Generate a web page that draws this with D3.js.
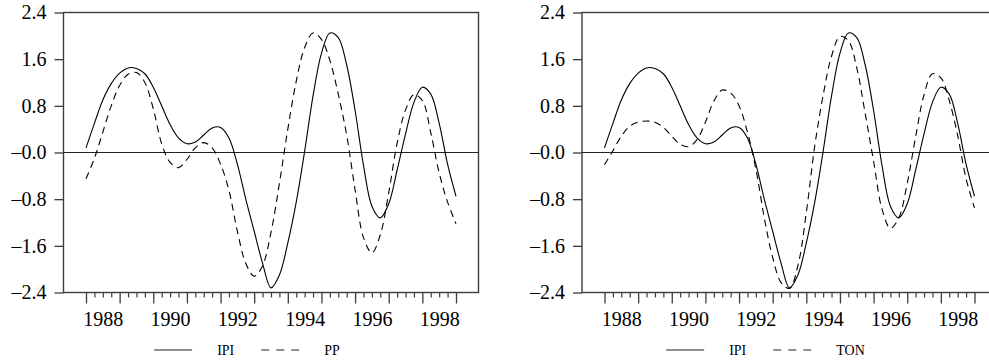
<!DOCTYPE html>
<html><head><meta charset="utf-8">
<script src="https://cdn.jsdelivr.net/npm/d3@7"></script>
<style>
body{margin:0;background:#fff}
svg{display:block}
svg text{font-family:"Liberation Serif","Times New Roman",Times,serif !important;fill:#000}
</style>
</head><body>
<svg id="chart" width="989" height="363"></svg>
<script>
// Quarterly observations, 1988Q1 .. 1999Q1
const startYear = 1988;
const ipi = [0.08,0.50,0.90,1.18, 1.36,1.45,1.44,1.35, 1.12,0.80,0.48,0.25, 0.15,0.18,0.30,0.42,
             0.43,0.25,-0.20,-0.80, -1.35,-1.90,-2.32,-2.10, -1.55,-0.85,0.02,0.97, 1.70,2.05,1.97,1.50,
             0.72,-0.22,-0.92,-1.12, -0.88,-0.30,0.32,0.86, 1.12,1.00,0.50,-0.20, -0.75];
const pp  = [-0.45,-0.10,0.35,0.80, 1.15,1.34,1.37,1.20, 0.75,0.15,-0.17,-0.26, -0.12,0.08,0.17,0.08,
             -0.20,-0.65,-1.35,-1.90, -2.12,-1.94,-1.37,-0.53, 0.40,1.22,1.80,2.05, 1.94,1.58,1.00,0.30,
             -0.64,-1.46,-1.72,-1.41, -0.69,0.16,0.73,0.99, 0.89,0.34,-0.35,-0.85, -1.22];
const ton = [-0.21,0.03,0.28,0.45, 0.52,0.54,0.52,0.43, 0.28,0.14,0.10,0.22, 0.52,0.88,1.07,1.02,
             0.80,0.35,-0.28,-1.12, -1.80,-2.23,-2.33,-1.94, -1.03,0.11,0.98,1.65, 1.99,1.92,1.45,0.67,
             -0.15,-0.97,-1.30,-1.12, -0.53,0.27,0.99,1.35, 1.28,0.89,0.29,-0.45, -0.95];
const yTicks = [-2.4,-1.6,-0.8,0,0.8,1.6,2.4];
const yearTicks = [1988,1989,1990,1991,1992,1993,1994,1995,1996,1997,1998,1999];
const yearLabels = [1988,1990,1992,1994,1996,1998];
const seriesNames = ["IPI","PP","TON"];

const svg = d3.select("#chart");
const W = 989, H = 363;
const FONT = "'Liberation Serif','Times New Roman',Times,serif";

const x = d3.scaleLinear().domain([1987.331, 1999.669]).range([63.5, 478.5]);
const y = d3.scaleLinear().domain([-2.4, 2.4]).range([292.5, 12.5]);

const quarters = d3.range(0, 45).map(i => startYear + i * 0.25);
const toPts = arr => arr.map((v, i) => [quarters[i], v]);

const line = d3.line().x(d => x(d[0])).y(d => y(d[1])).curve(d3.curveCatmullRom.alpha(0.5));

const fmt = d => d === 0 ? "\u20130.0" : (d < 0 ? "\u2013" : "") + Math.abs(d).toFixed(1);

function panel(g, solid, dashed, names) {
  const frameColor = "#3c3c3c";
  // y axis (ticks + labels)
  const ya = g.append("g").attr("transform", `translate(${x.range()[0]},0)`)
    .call(d3.axisLeft(y).tickValues(yTicks).tickSize(9).tickPadding(8).tickFormat(fmt));
  ya.attr("font-family", FONT);
  ya.select(".domain").remove();
  ya.selectAll(".tick line").attr("stroke", frameColor).attr("stroke-width", 1.3);
  ya.selectAll(".tick text").attr("font-size", 20).style("font-family", FONT);

  // x axis major/minor ticks
  const xa = g.append("g").attr("transform", `translate(0,${y.range()[0]})`)
    .call(d3.axisBottom(x).tickValues(yearTicks).tickSize(11).tickFormat(""));
  xa.select(".domain").remove();
  xa.selectAll(".tick line").attr("stroke", frameColor).attr("stroke-width", 1.3);
  const minor = quarters.filter((q, i) => i % 4 !== 0);
  const xm = g.append("g").attr("transform", `translate(0,${y.range()[0]})`)
    .call(d3.axisBottom(x).tickValues(minor).tickSize(5).tickFormat(""));
  xm.select(".domain").remove();
  xm.selectAll(".tick line").attr("stroke", frameColor).attr("stroke-width", 1.2);
  // year labels centered in the year
  const xl = g.append("g").attr("transform", `translate(0,${y.range()[0]})`)
    .call(d3.axisBottom(x).tickValues(yearLabels.map(v => v + 0.5)).tickSize(0).tickPadding(19)
      .tickFormat(d => String(Math.floor(d))));
  xl.attr("font-family", FONT);
  xl.select(".domain").remove();
  xl.selectAll(".tick text").attr("font-size", 20).style("font-family", FONT);

  // frame
  g.append("rect")
    .attr("x", x.range()[0]).attr("y", y.range()[1])
    .attr("width", x.range()[1] - x.range()[0]).attr("height", y.range()[0] - y.range()[1])
    .attr("fill", "none").attr("stroke", frameColor).attr("stroke-width", 1.4);

  // zero line
  g.append("line").attr("x1", x.range()[0]).attr("x2", x.range()[1])
    .attr("y1", y(0)).attr("y2", y(0)).attr("stroke", "#222").attr("stroke-width", 1.1);

  // series
  g.append("path").attr("d", line(toPts(solid))).attr("fill", "none")
    .attr("stroke", "#000").attr("stroke-width", 1.1);
  g.append("path").attr("d", line(toPts(dashed))).attr("fill", "none")
    .attr("stroke", "#000").attr("stroke-width", 1.1).attr("stroke-dasharray", "7,5");

  // legend
  const lg = g.append("g");
  const segLen = 38, gapA = 25, gapB = 27, ly = 350;
  const t1 = lg.append("text").attr("font-size", 14).style("font-family", FONT).text(names[0]).attr("y", ly + 5);
  const t2 = lg.append("text").attr("font-size", 14).style("font-family", FONT).text(names[1]).attr("y", ly + 5);
  const w1 = t1.node().getComputedTextLength(), w2 = t2.node().getComputedTextLength();
  const total = segLen + gapA + w1 + gapB + segLen + gapA + w2;
  let cx = 247 - total / 2;
  lg.append("line").attr("x1", cx).attr("x2", cx + segLen).attr("y1", ly).attr("y2", ly)
    .attr("stroke", "#222").attr("stroke-width", 1.1);
  cx += segLen + gapA; t1.attr("x", cx); cx += w1 + gapB;
  lg.append("line").attr("x1", cx).attr("x2", cx + segLen).attr("y1", ly).attr("y2", ly)
    .attr("stroke", "#222").attr("stroke-width", 1.1).attr("stroke-dasharray", "8,7");
  cx += segLen + gapA; t2.attr("x", cx);
}

svg.append("rect").attr("width", W).attr("height", H).attr("fill", "#fff");
panel(svg.append("g"), ipi, pp, [seriesNames[0], seriesNames[1]]);
panel(svg.append("g").attr("transform", "translate(518.5,0)"), ipi, ton, [seriesNames[0], seriesNames[2]]);
</script>
</body></html>
